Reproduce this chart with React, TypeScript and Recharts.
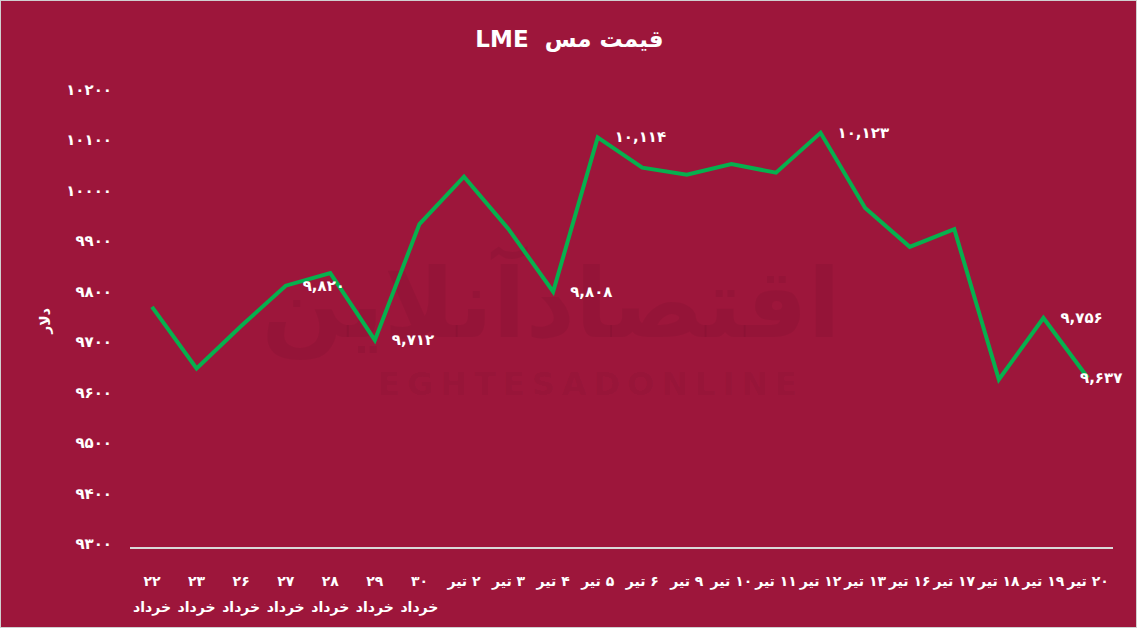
import React from "react";
import { LineChart, Line, XAxis, YAxis } from "recharts";

const days = ["22", "23", "26", "27", "28", "29", "30", "2", "3", "4", "5", "6", "9", "10", "11", "12", "13", "16", "17", "18", "19", "20"];
const months = ["خرداد", "خرداد", "خرداد", "خرداد", "خرداد", "خرداد", "خرداد", "تیر", "تیر", "تیر", "تیر", "تیر", "تیر", "تیر", "تیر", "تیر", "تیر", "تیر", "تیر", "تیر", "تیر", "تیر"];
const prices = [9778, 9656, 9740, 9820, 9845, 9712, 9942, 10036, 9932, 9808, 10114, 10054, 10040, 10061, 10044, 10123, 9974, 9897, 9932, 9634, 9756, 9637];
const labelled = [3, 5, 9, 10, 15, 20, 21];
const yTicks = [9300, 9400, 9500, 9600, 9700, 9800, 9900, 10000, 10100, 10200];

const BG = "#9d163b";
const GREEN = "#06b04e";
const FONT = "'DejaVu Sans', 'Noto Sans', sans-serif";

const fa = (s: string | number) => String(s).replace(/[0-9]/g, (d) => "۰۱۲۳۴۵۶۷۸۹"[Number(d)]);
const faNum = (n: number) => fa(n.toLocaleString("en-US"));

const data = days.map((d, i) => ({ day: d, month: months[i], price: prices[i] }));

function XTick(props: any) {
  const { x, y, index } = props;
  const d = data[index];
  if (d.month === "خرداد") {
    return (
      <g>
        <text x={x} y={y + 30} textAnchor="middle" fill="#fff" fontSize={14} fontWeight="bold" fontFamily={FONT}>{fa(d.day)}</text>
        <text x={x} y={y + 56} textAnchor="middle" fill="#fff" fontSize={14} fontWeight="bold" fontFamily={FONT}>{d.month}</text>
      </g>
    );
  }
  // day sits to the right of the month name
  return (
    <text x={x} y={y + 30} textAnchor="middle" fill="#fff" fontSize={14} fontWeight="bold" fontFamily={FONT} style={{ direction: "rtl" }}>{fa(d.day) + " " + d.month}</text>
  );
}

function YTick(props: any) {
  const { x, y, payload } = props;
  return (
    <text x={x - 10} y={y} dy={1} textAnchor="end" fill="#fff" fontSize={15} fontWeight="bold" fontFamily={FONT}>{fa(payload.value)}</text>
  );
}

function PointLabel(props: any) {
  const { x, y, index, value } = props;
  if (!labelled.includes(index)) return null;
  const dx = index === labelled[labelled.length - 1] ? -8 : 17;
  return (
    <text x={x + dx} y={y + 5} textAnchor="start" fill="#fff" fontSize={15} fontWeight="bold" fontFamily={FONT}>{faNum(value)}</text>
  );
}

export default function App() {
  return (
    <div style={{ position: "fixed", left: 0, top: 0, width: 1137, height: 628, background: BG, boxSizing: "border-box", border: "1px solid #d0d0d0", overflow: "hidden" }}>
      <div style={{ position: "absolute", left: 250, top: 248, width: 600, textAlign: "center", color: "rgba(0,0,0,0.05)", fontFamily: FONT, fontWeight: "bold", fontSize: 96, lineHeight: "110px", direction: "rtl", whiteSpace: "nowrap" }}>اقتصادآنلاین</div>
      <div style={{ position: "absolute", left: 290, top: 364, width: 600, textAlign: "center", color: "rgba(0,0,0,0.05)", fontFamily: FONT, fontWeight: "bold", fontSize: 32, letterSpacing: 7, whiteSpace: "nowrap" }}>EGHTESADONLINE</div>
      <div style={{ position: "absolute", left: 0, top: 25, width: 1137, textAlign: "center", color: "#fff", fontFamily: FONT, fontWeight: "bold", fontSize: 23, direction: "rtl" }}>قیمت مس&nbsp;&nbsp;LME</div>
      <div style={{ position: "absolute", left: 24, top: 300, width: 40, height: 40, display: "flex", alignItems: "center", justifyContent: "center", transform: "rotate(-90deg)", color: "#fff", fontFamily: FONT, fontWeight: "bold", fontSize: 14 }}>دلار</div>
      <div style={{ position: "absolute", left: -1, top: -1 }}>
        <LineChart width={1137} height={628} data={data} margin={{ top: 94, right: 24, bottom: 50, left: 0 }}>
          <XAxis
            dataKey="day"
            interval={0}
            height={30}
            padding={{ left: 22, right: 25 }}
            axisLine={{ stroke: "#d9d9d9", strokeWidth: 2 }}
            tickLine={false}
            tick={<XTick />}
          />
          <YAxis
            type="number"
            domain={[9300, 10200]}
            ticks={yTicks}
            width={130}
            axisLine={false}
            tickLine={false}
            tick={<YTick />}
          />
          <Line
            type="linear"
            dataKey="price"
            stroke={GREEN}
            strokeWidth={4}
            dot={false}
            isAnimationActive={false}
            label={<PointLabel />}
          />
        </LineChart>
      </div>
    </div>
  );
}
